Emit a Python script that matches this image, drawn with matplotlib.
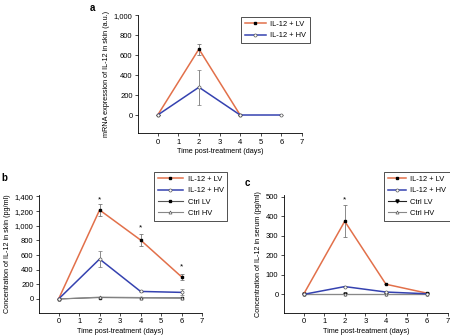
import numpy as np
import matplotlib.pyplot as plt
from matplotlib.lines import Line2D

plt.rcParams['font.family'] = ['Liberation Sans', 'DejaVu Sans']
plt.rcParams['font.size'] = 5

# panel a: mRNA in skin
days_a = [0, 2, 4]
a_lv = [0, 660, 0]
a_lv_err = [0, 55, 0]
days_a_hv = [0, 2, 4, 6]
a_hv = [0, 278, 0, 0]
a_hv_err = [0, 175, 0, 0]

# panel b: protein in skin
days = [0, 2, 4, 6]
b_lv = [0, 1215, 805, 302]
b_lv_err = [0, 80, 80, 45]
b_hv = [0, 545, 103, 90]
b_hv_err = [0, 115, 10, 40]
b_ctrl_lv = [0, 20, 15, 15]
b_ctrl_hv = [0, 25, 20, 10]
b_star = [(2, 1355), (4, 975), (6, 440)]

# panel c: serum
c_lv = [0, 375, 52, 6]
c_lv_err = [0, 82, 0, 0]
c_hv = [0, 40, 12, 3]
c_ctrl_lv = [0, 0, 0, 0]
c_ctrl_hv = [0, 0, 0, 0]
c_star = [(2, 487)]

ORANGE = '#e2704a'
BLUE = '#3542b0'

LV_STYLE = dict(color=ORANGE, lw=1.1, marker='s', ms=1.8, mfc='black', mec='black')
HV_STYLE = dict(color=BLUE, lw=1.1, marker='o', ms=2.2, mfc='white', mec='#555555', mew=0.5)

fig = plt.figure(figsize=(4.5, 3.35), dpi=100)


def style(ax, ylim, yticks, ylabel):
    ax.spines['top'].set_visible(False)
    ax.spines['right'].set_visible(False)
    ax.spines['left'].set_linewidth(0.6)
    ax.spines['bottom'].set_linewidth(0.6)
    ax.set_xlim(-0.95, 7)
    ax.set_xticks(range(8))
    ax.set_ylim(*ylim)
    ax.set_yticks(yticks)
    ax.set_yticklabels([f'{v:,}' for v in yticks])
    ax.tick_params(length=2, width=0.5, labelsize=5.5, pad=2)
    ax.set_xlabel('Time post-treatment (days)', fontsize=5.2, labelpad=2)
    ax.set_ylabel(ylabel, fontsize=5.2, labelpad=3)


def draw(ax, x, y, err, st, label):
    ax.errorbar(x, y, yerr=err, ecolor='#777777', elinewidth=0.6,
                capsize=1.5, capthick=0.6, zorder=3, **st)
    return Line2D([], [], label=label, **st)


def legend(ax, handles, x, y, hl):
    lg = ax.legend(handles=handles, loc='upper left', bbox_to_anchor=(x, y),
                   bbox_transform=fig.transFigure, borderaxespad=0,
                   fontsize=5.4, frameon=True, fancybox=False, edgecolor='black',
                   handlelength=hl, borderpad=0.5, labelspacing=0.55,
                   handletextpad=0.6)
    lg.get_frame().set_linewidth(0.6)


# a
ax_a = fig.add_axes([0.307, 0.603, 0.364, 0.352])
h1 = draw(ax_a, days_a, a_lv, a_lv_err, LV_STYLE, 'IL-12 + LV')
h2 = draw(ax_a, days_a_hv, a_hv, a_hv_err, HV_STYLE, 'IL-12 + HV')
style(ax_a, (-180, 1000), [0, 200, 400, 600, 800, 1000],
      'mRNA expression of IL-12 in skin (a.u.)')
legend(ax_a, [h1, h2], 0.536, 0.949, 2.8)
fig.text(0.2, 0.975, 'a', fontsize=7, fontweight='bold', va='center')

# b
ax_b = fig.add_axes([0.087, 0.066, 0.362, 0.352])
h1 = draw(ax_b, days, b_lv, b_lv_err, LV_STYLE, 'IL-12 + LV')
h2 = draw(ax_b, days, b_hv, b_hv_err, HV_STYLE, 'IL-12 + HV')
h3, = ax_b.plot(days, b_ctrl_lv, color='#555555', lw=0.8, marker='s', ms=1.6,
                mfc='black', mec='black', label='Ctrl LV')
h4, = ax_b.plot(days, b_ctrl_hv, color='#888888', lw=0.8, marker='^', ms=2.2,
                mfc='white', mec='#555555', mew=0.5, label='Ctrl HV')
for x, y in b_star:
    ax_b.text(x, y, '*', ha='center', va='center', fontsize=6)
style(ax_b, (-190, 1420), [0, 200, 400, 600, 800, 1000, 1200, 1400],
      'Concentration of IL-12 in skin (pg/ml)')
legend(ax_b, [h1, h2, h3, h4], 0.342, 0.487, 3.4)
fig.text(0.004, 0.47, 'b', fontsize=7, fontweight='bold', va='center')

# c
ax_c = fig.add_axes([0.631, 0.066, 0.364, 0.352])
h1 = draw(ax_c, days, c_lv, c_lv_err, LV_STYLE, 'IL-12 + LV')
h2 = draw(ax_c, days, c_hv, [0, 0, 0, 0], HV_STYLE, 'IL-12 + HV')
h3, = ax_c.plot(days, c_ctrl_lv, color='#222222', lw=0.8, marker='v', ms=2.2,
                mfc='black', mec='black', label='Ctrl LV')
h4, = ax_c.plot(days, c_ctrl_hv, color='#888888', lw=0.8, marker='^', ms=2.2,
                mfc='white', mec='#555555', mew=0.5, label='Ctrl HV')
for x, y in c_star:
    ax_c.text(x, y, '*', ha='center', va='center', fontsize=6)
style(ax_c, (-95, 510), [0, 100, 200, 300, 400, 500],
      'Concentration of IL-12 in serum (pg/ml)')
legend(ax_c, [h1, h2, h3, h4], 0.853, 0.487, 2.4)
fig.text(0.543, 0.455, 'c', fontsize=7, fontweight='bold', va='center')

fig.savefig('out.png', dpi=100)
